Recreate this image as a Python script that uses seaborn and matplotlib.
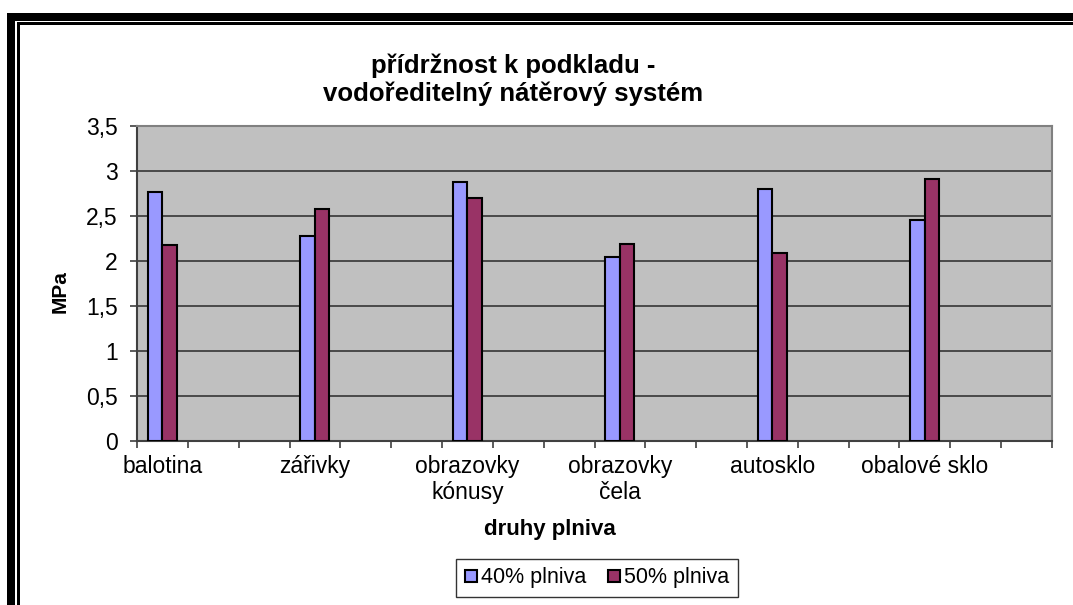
import numpy as np
import pandas as pd
import matplotlib
matplotlib.use("Agg")
import matplotlib.pyplot as plt
from matplotlib.patches import Rectangle
import seaborn as sns

# ---- data ----
categories = ["balotina", "zářivky", "obrazovky\nkónusy", "obrazovky\nčela",
              "autosklo", "obalové sklo"]
series_names = ["40% plniva", "50% plniva"]
values_40 = [2.77, 2.28, 2.88, 2.05, 2.80, 2.45]
values_50 = [2.18, 2.58, 2.70, 2.19, 2.09, 2.91]
y_ticks = [0, 0.5, 1, 1.5, 2, 2.5, 3, 3.5]
y_tick_labels = ["0", "0,5", "1", "1,5", "2", "2,5", "3", "3,5"]
title = "přídržnost k podkladu -\nvodoředitelný nátěrový systém"
x_label = "druhy plniva"
y_label = "MPa"
colors = ["#9999FF", "#993366"]

W, H = 1073, 605
sns.set_theme(style="white")
plt.rcParams["font.family"] = ["Liberation Sans", "DejaVu Sans"]
plt.rcParams["text.color"] = "black"
plt.rcParams["axes.labelcolor"] = "black"
plt.rcParams["xtick.color"] = "black"
plt.rcParams["ytick.color"] = "black"

df = pd.DataFrame({
    "druh": categories * 2,
    "serie": [series_names[0]] * len(categories) + [series_names[1]] * len(categories),
    "MPa": values_40 + values_50,
})
# each labelled category followed by two empty category slots (as in the source chart)
order = []
for i, c in enumerate(categories):
    order += [c, f"_empty{i}a", f"_empty{i}b"]

fig = plt.figure(figsize=(W / 100, H / 100), dpi=100)
ax = fig.add_axes([137 / W, 1 - 441 / H, (1052 - 137) / W, (441 - 126) / H])
ax.set_facecolor("#C0C0C0")

sns.barplot(data=df, x="druh", y="MPa", hue="serie", order=order,
            hue_order=series_names, palette=colors, width=0.57,
            edgecolor="black", linewidth=1.5, saturation=1, ax=ax,
            legend=True, zorder=3)

ax.set_xlim(-0.5, len(order) - 0.5)
ax.set_ylim(0, 3.5)
ax.set_yticks(y_ticks, labels=y_tick_labels)
ax.set_xticks(range(0, len(order), 3), labels=categories)
ax.set_xticks(np.arange(-0.5, len(order), 1), minor=True)
ax.tick_params(axis="x", which="major", length=0, pad=10, labelsize=16.5,
               labelcolor="black")
ax.tick_params(axis="x", which="minor", length=5, width=1.2, direction="out",
               color="#404040", bottom=True)
ax.tick_params(axis="y", which="major", length=5, width=1.2, direction="out",
               color="#404040", left=True, pad=9, labelsize=16.5,
               labelcolor="black")
ax.grid(axis="y", color="#404040", linewidth=1.3, zorder=1)
ax.set_axisbelow(True)
ax.set_xlabel("")
ax.set_ylabel("")
for s in ax.spines.values():
    s.set_color("#808080")
    s.set_linewidth(1.5)
ax.spines["left"].set_color("#404040")
ax.spines["bottom"].set_color("#404040")

# legend
handles, labels = ax.get_legend_handles_labels()
ax.legend_.remove()
leg = fig.legend(handles, labels, loc="center",
                 bbox_to_anchor=(597 / W, 1 - 578 / H), ncol=2, fontsize=15.5,
                 frameon=True, fancybox=False, edgecolor="black",
                 handlelength=0.55, handleheight=0.45, handletextpad=0.2,
                 columnspacing=1.0, borderpad=0.4)
leg.get_frame().set_linewidth(1.0)
for t in leg.get_texts():
    t.set_color("black")

# texts
fig.text(513 / W, 1 - 80 / H, title, ha="center", va="center", color="black",
         fontsize=18.5, fontweight="bold", linespacing=1.2)
fig.text(550 / W, 1 - 530 / H, x_label, ha="center", va="center", color="black",
         fontsize=16, fontweight="bold")
fig.text(60 / W, 1 - 292 / H, y_label, ha="center", va="center", color="black",
         rotation=90, fontsize=15, fontweight="bold")

# double black frame of the chart
def frame_rect(x0, y0, x1, y1):
    fig.add_artist(Rectangle((x0 / W, 1 - y1 / H), (x1 - x0) / W, (y1 - y0) / H,
                             transform=fig.transFigure, facecolor="black",
                             edgecolor="none"))

frame_rect(7.3, 13.3, 15.0, H)
frame_rect(7.3, 13.3, W, 20.7)
frame_rect(16.7, 22.3, 20.0, H)
frame_rect(16.7, 22.3, W, 25.0)

fig.savefig("out.png", dpi=100)
